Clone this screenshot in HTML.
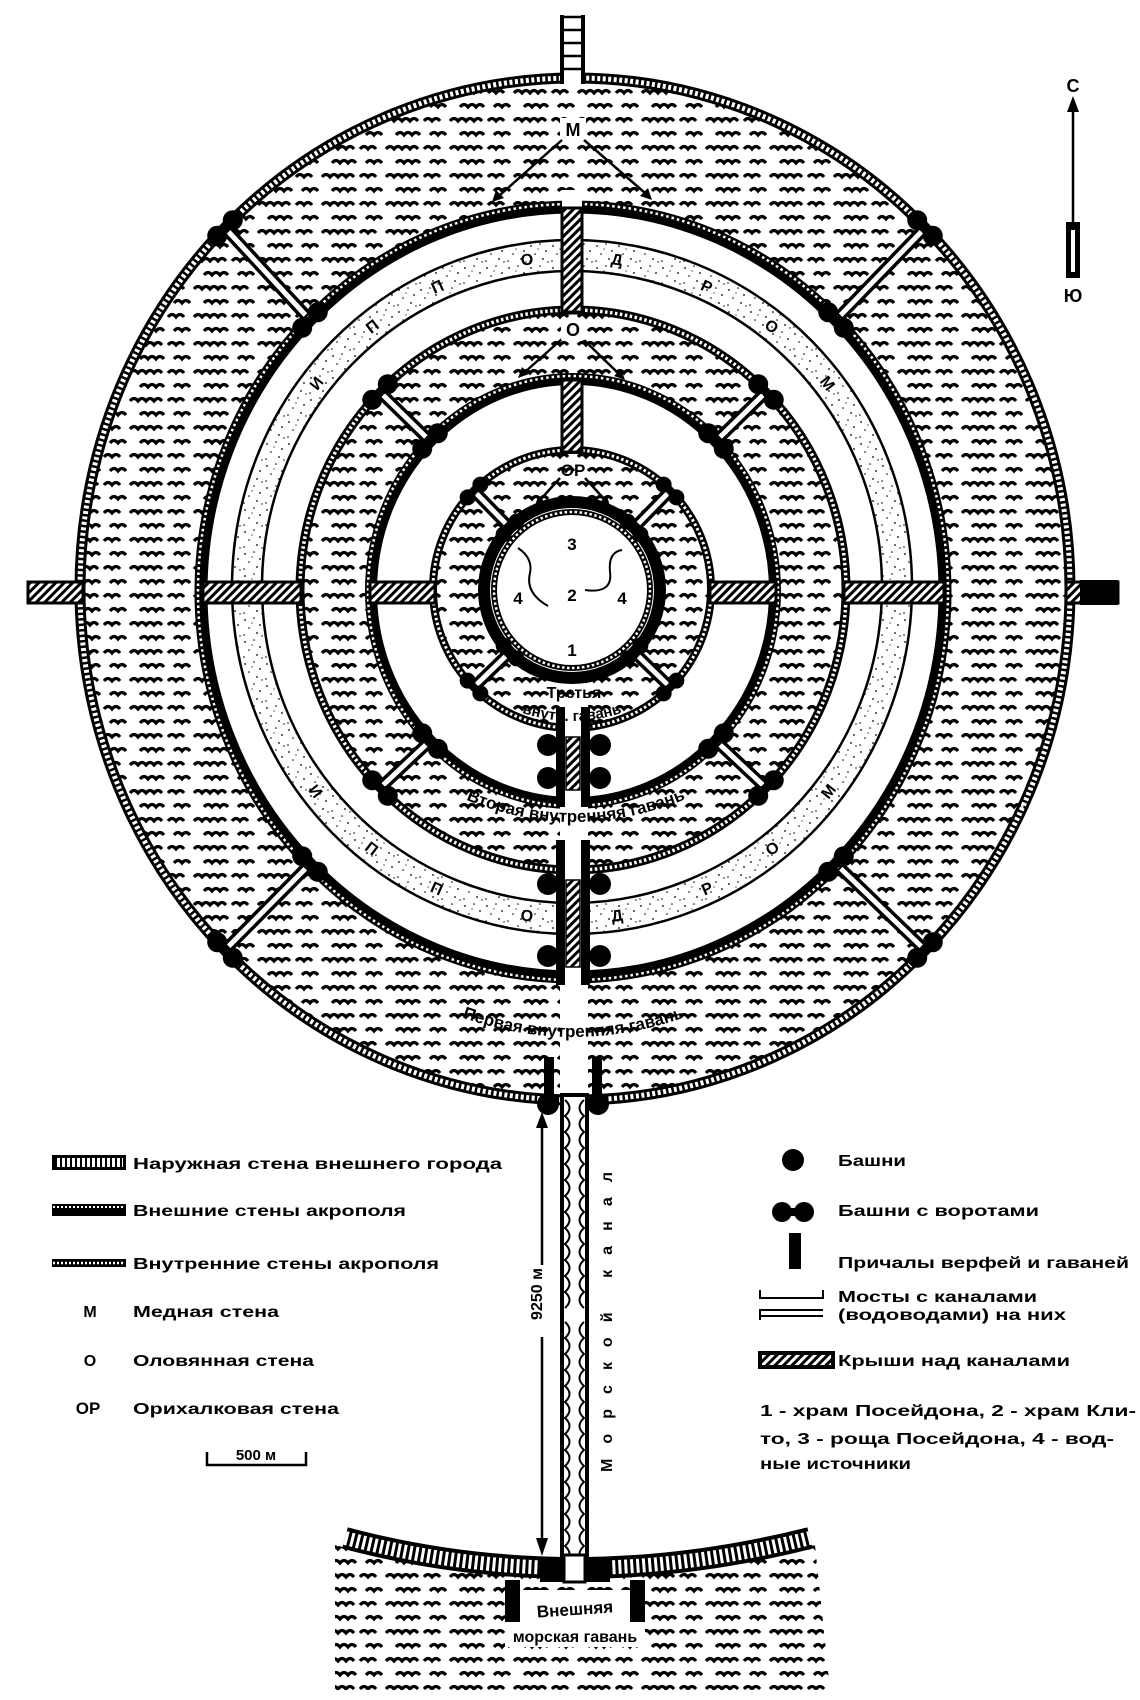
<!DOCTYPE html>
<html><head><meta charset="utf-8"><style>
html,body{margin:0;padding:0;background:#fff}
svg{display:block}
text{font-family:"Liberation Sans",sans-serif;font-weight:bold;fill:#000}
</style></head><body>
<svg width="1140" height="1700" viewBox="0 0 1140 1700" xmlns="http://www.w3.org/2000/svg">
<defs>
<pattern id="w" width="64" height="28" patternUnits="userSpaceOnUse">
<path d="M2 9 q4 -5 8 0 q4 -5 8 0 q4 -5 8 0 q4 -5 8 0 M40 9 q4 -5 8 0 q4 -5 8 0 M12 23 q4 -5 8 0 q4 -5 8 0 q4 -5 8 0 M46 23 q4 -5 8 0 q4 -5 8 0" fill="none" stroke="#000" stroke-width="3.2"/>
</pattern>
<pattern id="st" width="22" height="22" patternUnits="userSpaceOnUse">
<g fill="#000"><circle cx="3" cy="4" r="0.9"/><circle cx="12" cy="2" r="0.8"/><circle cx="18" cy="9" r="0.9"/><circle cx="7" cy="12" r="0.8"/><circle cx="15" cy="17" r="0.9"/><circle cx="2" cy="19" r="0.8"/><circle cx="20" cy="20" r="0.7"/><circle cx="10" cy="7" r="0.6"/></g>
</pattern>
<pattern id="h" width="6" height="6" patternUnits="userSpaceOnUse" patternTransform="rotate(45)">
<rect width="6" height="6" fill="#fff"/><rect width="3" height="6" fill="#000"/>
</pattern>
<g id="tp"><rect x="-11" y="-4" width="22" height="8" fill="#000"/><circle cx="-11" cy="0" r="10" fill="#000"/><circle cx="11" cy="0" r="10" fill="#000"/></g>
<g id="tps"><rect x="-9" y="-3" width="18" height="6" fill="#000"/><circle cx="-9" cy="0" r="8" fill="#000"/><circle cx="9" cy="0" r="8" fill="#000"/></g>
</defs>

<ellipse cx="575" cy="589" rx="495" ry="511" fill="url(#w)"/>
<ellipse cx="573" cy="592" rx="372" ry="385" fill="#fff"/>
<ellipse cx="572" cy="587" rx="340" ry="347" fill="url(#st)" stroke="#000" stroke-width="2.5"/>
<ellipse cx="572" cy="587" rx="310" ry="316" fill="#fff" stroke="#000" stroke-width="2.5"/>
<ellipse cx="573" cy="590" rx="273" ry="280" fill="url(#w)"/>
<ellipse cx="573" cy="591" rx="202" ry="212" fill="#fff"/>
<ellipse cx="572" cy="589" rx="139" ry="139" fill="url(#w)"/>
<ellipse cx="572" cy="590" rx="88" ry="88" fill="#fff"/>

<g stroke-linecap="butt">
<g stroke="#000" stroke-width="12">
<line x1="225" y1="228" x2="310" y2="320"/><line x1="925" y1="228" x2="836" y2="320"/>
<line x1="225" y1="950" x2="310" y2="864"/><line x1="925" y1="950" x2="836" y2="864"/>
<line x1="380" y1="392" x2="430" y2="441"/><line x1="766" y1="392" x2="716" y2="441"/>
<line x1="380" y1="788" x2="430" y2="741"/><line x1="766" y1="788" x2="716" y2="741"/>
<line x1="474" y1="491" x2="510" y2="528"/><line x1="670" y1="491" x2="634" y2="528"/>
<line x1="474" y1="687" x2="510" y2="652"/><line x1="670" y1="687" x2="634" y2="652"/>
</g>
<g stroke="#fff" stroke-width="5">
<line x1="225" y1="228" x2="310" y2="320"/><line x1="925" y1="228" x2="836" y2="320"/>
<line x1="225" y1="950" x2="310" y2="864"/><line x1="925" y1="950" x2="836" y2="864"/>
<line x1="380" y1="392" x2="430" y2="441"/><line x1="766" y1="392" x2="716" y2="441"/>
<line x1="380" y1="788" x2="430" y2="741"/><line x1="766" y1="788" x2="716" y2="741"/>
<line x1="474" y1="491" x2="510" y2="528"/><line x1="670" y1="491" x2="634" y2="528"/>
<line x1="474" y1="687" x2="510" y2="652"/><line x1="670" y1="687" x2="634" y2="652"/>
</g>
</g>

<ellipse cx="575" cy="589" rx="495" ry="511" fill="none" stroke="#000" stroke-width="11"/>
<ellipse cx="575" cy="589" rx="495" ry="511" fill="none" stroke="#fff" stroke-width="5" stroke-dasharray="3 2.5"/>
<ellipse cx="573" cy="592" rx="372" ry="385" fill="none" stroke="#000" stroke-width="13"/>
<ellipse cx="573" cy="592" rx="375" ry="388" fill="none" stroke="#fff" stroke-width="2.5" stroke-dasharray="2.5 3"/>
<ellipse cx="573" cy="590" rx="273" ry="280" fill="none" stroke="#000" stroke-width="9"/>
<ellipse cx="573" cy="590" rx="273" ry="280" fill="none" stroke="#fff" stroke-width="3.5" stroke-dasharray="2.5 2.5"/>
<ellipse cx="573" cy="591" rx="202" ry="212" fill="none" stroke="#000" stroke-width="12"/>
<ellipse cx="573" cy="591" rx="205" ry="215" fill="none" stroke="#fff" stroke-width="2.5" stroke-dasharray="2.5 3"/>
<ellipse cx="572" cy="589" rx="139" ry="139" fill="none" stroke="#000" stroke-width="8"/>
<ellipse cx="572" cy="589" rx="139" ry="139" fill="none" stroke="#fff" stroke-width="3" stroke-dasharray="2.5 2.5"/>
<ellipse cx="572" cy="590" rx="88" ry="88" fill="none" stroke="#000" stroke-width="12"/>
<ellipse cx="572" cy="590" rx="78" ry="78" fill="none" stroke="#000" stroke-width="6"/>
<ellipse cx="572" cy="590" rx="78" ry="78" fill="none" stroke="#fff" stroke-width="2.5" stroke-dasharray="2.5 2.5"/>

<rect x="561" y="15" width="23" height="70" fill="#fff"/>
<line x1="562" y1="15" x2="562" y2="84" stroke="#000" stroke-width="4"/>
<line x1="583" y1="15" x2="583" y2="84" stroke="#000" stroke-width="4"/>
<g stroke="#000" stroke-width="2.5"><line x1="562" y1="17" x2="583" y2="17"/><line x1="562" y1="30" x2="583" y2="30"/><line x1="562" y1="43" x2="583" y2="43"/><line x1="562" y1="56" x2="583" y2="56"/><line x1="562" y1="69" x2="583" y2="69"/></g>
<rect x="562" y="190" width="20" height="20" fill="#fff"/>

<g stroke="#000" stroke-width="3" fill="url(#h)">
<rect x="28" y="582" width="55" height="21"/>
<rect x="203" y="582" width="98" height="21"/>
<rect x="370" y="582" width="65" height="21"/>
<rect x="710" y="582" width="66" height="21"/>
<rect x="844" y="582" width="100" height="21"/>
<rect x="1066" y="582" width="52" height="21"/>
<rect x="562" y="208" width="20" height="104"/>
<rect x="562" y="380" width="20" height="72"/>
</g>
<rect x="1080" y="580" width="38" height="25" fill="#000"/>

<rect x="560" y="700" width="28" height="410" fill="#fff"/>
<rect x="566" y="737" width="14" height="53" fill="url(#h)" stroke="#000" stroke-width="1.5"/>
<rect x="566" y="880" width="14" height="87" fill="url(#h)" stroke="#000" stroke-width="1.5"/>
<g fill="#000">
<rect x="556" y="707" width="9" height="100"/><rect x="581" y="707" width="9" height="100"/>
<rect x="556" y="840" width="9" height="145"/><rect x="581" y="840" width="9" height="145"/>
<rect x="544" y="1057" width="10" height="40"/><rect x="592" y="1057" width="10" height="40"/>
<circle cx="548" cy="745" r="11"/><circle cx="600" cy="745" r="11"/>
<circle cx="548" cy="778" r="11"/><circle cx="600" cy="778" r="11"/>
<circle cx="548" cy="884" r="11"/><circle cx="600" cy="884" r="11"/>
<circle cx="548" cy="956" r="11"/><circle cx="600" cy="956" r="11"/>
<circle cx="548" cy="1104" r="11"/><circle cx="598" cy="1104" r="11"/>
</g>

<rect x="562" y="1095" width="25" height="485" fill="#fff" stroke="#000" stroke-width="4"/>
<g fill="none" stroke="#000" stroke-width="2">
<path d="M565 1100 q9 8 0 16 q9 8 0 16 q9 8 0 16 q9 8 0 16 q9 8 0 16 q9 8 0 16 q9 8 0 16 q9 8 0 16 q9 8 0 16 q9 8 0 16 q9 8 0 16 q9 8 0 16 q9 8 0 16"/>
<path d="M584 1100 q-9 8 0 16 q-9 8 0 16 q-9 8 0 16 q-9 8 0 16 q-9 8 0 16 q-9 8 0 16 q-9 8 0 16 q-9 8 0 16 q-9 8 0 16 q-9 8 0 16 q-9 8 0 16 q-9 8 0 16 q-9 8 0 16"/>
<path d="M565 1322 q9 8 0 16 q9 8 0 16 q9 8 0 16 q9 8 0 16 q9 8 0 16 q9 8 0 16 q9 8 0 16 q9 8 0 16 q9 8 0 16 q9 8 0 16 q9 8 0 16 q9 8 0 16 q9 8 0 16 q9 8 0 16 q9 8 0 16"/>
<path d="M584 1322 q-9 8 0 16 q-9 8 0 16 q-9 8 0 16 q-9 8 0 16 q-9 8 0 16 q-9 8 0 16 q-9 8 0 16 q-9 8 0 16 q-9 8 0 16 q-9 8 0 16 q-9 8 0 16 q-9 8 0 16 q-9 8 0 16 q-9 8 0 16 q-9 8 0 16"/>
</g>

<path d="M335 1545 Q572 1610 815 1545 L830 1690 L335 1690 Z" fill="url(#w)"/>
<path d="M345 1538 Q572 1598 810 1538" fill="none" stroke="#000" stroke-width="22"/>
<path d="M345 1538 Q572 1598 810 1538" fill="none" stroke="#fff" stroke-width="14" stroke-dasharray="3 3"/>
<rect x="540" y="1558" width="70" height="24" fill="#000"/>
<rect x="564" y="1555" width="21" height="27" fill="#fff" stroke="#000" stroke-width="3"/>
<rect x="505" y="1580" width="15" height="42" fill="#000"/>
<rect x="630" y="1580" width="15" height="42" fill="#000"/>
<rect x="520" y="1590" width="110" height="32" fill="#fff"/>
<rect x="505" y="1627" width="140" height="20" fill="#fff"/>
<text x="575" y="1615" font-size="17" text-anchor="middle" transform="rotate(-4 575 1610)">Внешняя</text>
<text x="575" y="1642" font-size="16" text-anchor="middle">морская гавань</text>

<line x1="542" y1="1128" x2="542" y2="1540" stroke="#000" stroke-width="2.5"/>
<path d="M536 1128 L542 1112 L548 1128 Z M536 1538 L542 1556 L548 1538 Z" fill="#000"/>
<rect x="532" y="1265" width="20" height="72" fill="#fff"/>
<text x="548" y="1300" font-size="16" text-anchor="middle" transform="rotate(-90 542 1300)">9250 м</text>
<text x="618" y="1328" font-size="16" text-anchor="middle" textLength="300" lengthAdjust="spacing" transform="rotate(-90 612 1328)">Морской канал</text>

<use href="#tp" transform="translate(225,228) rotate(-45)"/>
<use href="#tp" transform="translate(925,228) rotate(45)"/>
<use href="#tp" transform="translate(225,950) rotate(45)"/>
<use href="#tp" transform="translate(925,950) rotate(-45)"/>
<use href="#tp" transform="translate(310,320) rotate(-45)"/>
<use href="#tp" transform="translate(836,320) rotate(45)"/>
<use href="#tp" transform="translate(310,864) rotate(45)"/>
<use href="#tp" transform="translate(836,864) rotate(-45)"/>
<use href="#tp" transform="translate(380,392) rotate(-45)"/>
<use href="#tp" transform="translate(766,392) rotate(45)"/>
<use href="#tp" transform="translate(380,788) rotate(45)"/>
<use href="#tp" transform="translate(766,788) rotate(-45)"/>
<use href="#tp" transform="translate(430,441) rotate(-45)"/>
<use href="#tp" transform="translate(716,441) rotate(45)"/>
<use href="#tp" transform="translate(430,741) rotate(45)"/>
<use href="#tp" transform="translate(716,741) rotate(-45)"/>
<use href="#tps" transform="translate(474,491) rotate(-45)"/>
<use href="#tps" transform="translate(670,491) rotate(45)"/>
<use href="#tps" transform="translate(474,687) rotate(45)"/>
<use href="#tps" transform="translate(670,687) rotate(-45)"/>
<use href="#tps" transform="translate(510,528) rotate(-45)"/>
<use href="#tps" transform="translate(634,528) rotate(45)"/>
<use href="#tps" transform="translate(510,652) rotate(45)"/>
<use href="#tps" transform="translate(634,652) rotate(-45)"/>

<rect x="560" y="118" width="26" height="22" fill="#fff"/>
<text x="573" y="136" font-size="18" text-anchor="middle">М</text>
<g stroke="#000" stroke-width="2.5"><line x1="562" y1="140" x2="500" y2="195"/><line x1="584" y1="140" x2="645" y2="193"/>
<line x1="563" y1="338" x2="525" y2="372"/><line x1="582" y1="338" x2="618" y2="373"/>
<line x1="560" y1="478" x2="540" y2="500"/><line x1="585" y1="478" x2="605" y2="500"/></g>
<path d="M492 202 l4 -12 l8 8 Z M652 200 l-4 -12 l-8 8 Z M518 378 l4 -11 l7 7Z M625 380 l-4 -11 l-7 7Z M535 506 l3 -10 l7 6Z M610 506 l-3 -10 l-7 6Z" fill="#000"/>
<rect x="561" y="318" width="24" height="22" fill="#fff"/>
<text x="573" y="336" font-size="18" text-anchor="middle">О</text>
<text x="573" y="476" font-size="17" text-anchor="middle">ОР</text>

<text x="572" y="550" font-size="17" text-anchor="middle">3</text>
<text x="572" y="601" font-size="17" text-anchor="middle">2</text>
<text x="518" y="604" font-size="17" text-anchor="middle">4</text>
<text x="622" y="604" font-size="17" text-anchor="middle">4</text>
<text x="572" y="656" font-size="17" text-anchor="middle">1</text>
<path d="M518 548 q15 10 12 25 q-5 20 18 33" fill="none" stroke="#000" stroke-width="2"/>
<path d="M622 550 q-14 2 -12 22 q3 22 -25 18" fill="none" stroke="#000" stroke-width="2"/>

<g font-size="16" text-anchor="middle">
<text x="316" y="389" transform="rotate(-52 316 383)">И</text>
<text x="372" y="332" transform="rotate(-38 372 326)">П</text>
<text x="437" y="292" transform="rotate(-24 437 286)">П</text>
<text x="527" y="265" transform="rotate(-8 527 259)">О</text>
<text x="617" y="265" transform="rotate(8 617 259)">Д</text>
<text x="707" y="292" transform="rotate(24 707 286)">Р</text>
<text x="772" y="332" transform="rotate(38 772 326)">О</text>
<text x="828" y="389" transform="rotate(52 828 383)">М</text>
<text x="316" y="797" transform="rotate(52 316 791)">И</text>
<text x="372" y="854" transform="rotate(38 372 848)">П</text>
<text x="437" y="894" transform="rotate(24 437 888)">П</text>
<text x="527" y="921" transform="rotate(8 527 915)">О</text>
<text x="617" y="921" transform="rotate(-8 617 915)">Д</text>
<text x="707" y="894" transform="rotate(-24 707 888)">Р</text>
<text x="772" y="854" transform="rotate(-38 772 848)">О</text>
<text x="828" y="797" transform="rotate(-52 828 791)">М</text>
</g>

<path id="p2" d="M430 782 Q572 862 722 782" fill="none"/>
<path id="p1" d="M425 1002 Q572 1072 722 1002" fill="none"/>
<path id="p3" d="M492 700 Q572 742 652 700" fill="none"/>
<text font-size="17"><textPath href="#p2" startOffset="50%" text-anchor="middle">Вторая внутренняя гавань</textPath></text>
<text font-size="17"><textPath href="#p1" startOffset="50%" text-anchor="middle">Первая внутренняя гавань</textPath></text>
<text font-size="15"><textPath href="#p3" startOffset="50%" text-anchor="middle">внутр.        гавань</textPath></text>
<text x="574" y="698" font-size="16" text-anchor="middle">Третья</text>

<text x="1073" y="92" font-size="18" text-anchor="middle">С</text>
<line x1="1073" y1="108" x2="1073" y2="222" stroke="#000" stroke-width="2.5"/>
<path d="M1067 112 L1073 96 L1079 112 Z" fill="#000"/>
<rect x="1066" y="222" width="14" height="56" fill="#000"/>
<rect x="1071" y="230" width="4" height="42" fill="#fff"/>
<text x="1073" y="302" font-size="18" text-anchor="middle">Ю</text>

<rect x="52" y="1155" width="74" height="15" fill="#000"/>
<rect x="55" y="1158" width="68" height="9" fill="#fff"/>
<line x1="55" y1="1162.5" x2="123" y2="1162.5" stroke="#000" stroke-width="9" stroke-dasharray="2 3"/>
<rect x="52" y="1204" width="74" height="12" fill="#000"/>
<line x1="53" y1="1207" x2="125" y2="1207" stroke="#fff" stroke-width="2" stroke-dasharray="2 2"/>
<rect x="52" y="1259" width="74" height="8" fill="#000"/>
<line x1="53" y1="1263" x2="125" y2="1263" stroke="#fff" stroke-width="2.5" stroke-dasharray="2 2"/>
<g font-size="16">
<text x="133" y="1169" textLength="369" lengthAdjust="spacingAndGlyphs">Наружная стена внешнего города</text>
<text x="133" y="1216" textLength="273" lengthAdjust="spacingAndGlyphs">Внешние стены акрополя</text>
<text x="133" y="1269" textLength="306" lengthAdjust="spacingAndGlyphs">Внутренние стены акрополя</text>
<text x="90" y="1317" text-anchor="middle">М</text>
<text x="133" y="1317" textLength="146" lengthAdjust="spacingAndGlyphs">Медная стена</text>
<text x="90" y="1366" text-anchor="middle">О</text>
<text x="133" y="1366" textLength="181" lengthAdjust="spacingAndGlyphs">Оловянная стена</text>
<text x="88" y="1414" text-anchor="middle" font-size="17">ОР</text>
<text x="133" y="1414" textLength="206" lengthAdjust="spacingAndGlyphs">Орихалковая стена</text>
<text x="256" y="1460" text-anchor="middle" font-size="15">500 м</text>
</g>
<path d="M207 1452 L207 1465 L306 1465 L306 1452" fill="none" stroke="#000" stroke-width="2.5"/>

<circle cx="793" cy="1160" r="11" fill="#000"/>
<use href="#tp" transform="translate(793,1212)"/>
<rect x="789" y="1233" width="12" height="36" fill="#000"/>
<path d="M760 1290 L760 1298 L823 1298 L823 1290" fill="none" stroke="#000" stroke-width="2"/>
<path d="M760 1320 L760 1310 L823 1310 M760 1316 L823 1316" fill="none" stroke="#000" stroke-width="2"/>
<rect x="760" y="1353" width="73" height="14" fill="url(#h)" stroke="#000" stroke-width="4"/>
<g font-size="16">
<text x="838" y="1166" textLength="68" lengthAdjust="spacingAndGlyphs">Башни</text>
<text x="838" y="1216" textLength="201" lengthAdjust="spacingAndGlyphs">Башни с воротами</text>
<text x="838" y="1268" textLength="291" lengthAdjust="spacingAndGlyphs">Причалы верфей и гаваней</text>
<text x="838" y="1302" textLength="199" lengthAdjust="spacingAndGlyphs">Мосты с каналами</text>
<text x="838" y="1320" textLength="228" lengthAdjust="spacingAndGlyphs">(водоводами) на них</text>
<text x="838" y="1366" textLength="232" lengthAdjust="spacingAndGlyphs">Крыши над каналами</text>
<text x="760" y="1416" textLength="376" lengthAdjust="spacingAndGlyphs">1 - храм Посейдона, 2 - храм Кли-</text>
<text x="760" y="1444" textLength="354" lengthAdjust="spacingAndGlyphs">то, 3 - роща Посейдона, 4 - вод-</text>
<text x="760" y="1469" textLength="151" lengthAdjust="spacingAndGlyphs">ные источники</text>
</g>
</svg>
</body></html>
